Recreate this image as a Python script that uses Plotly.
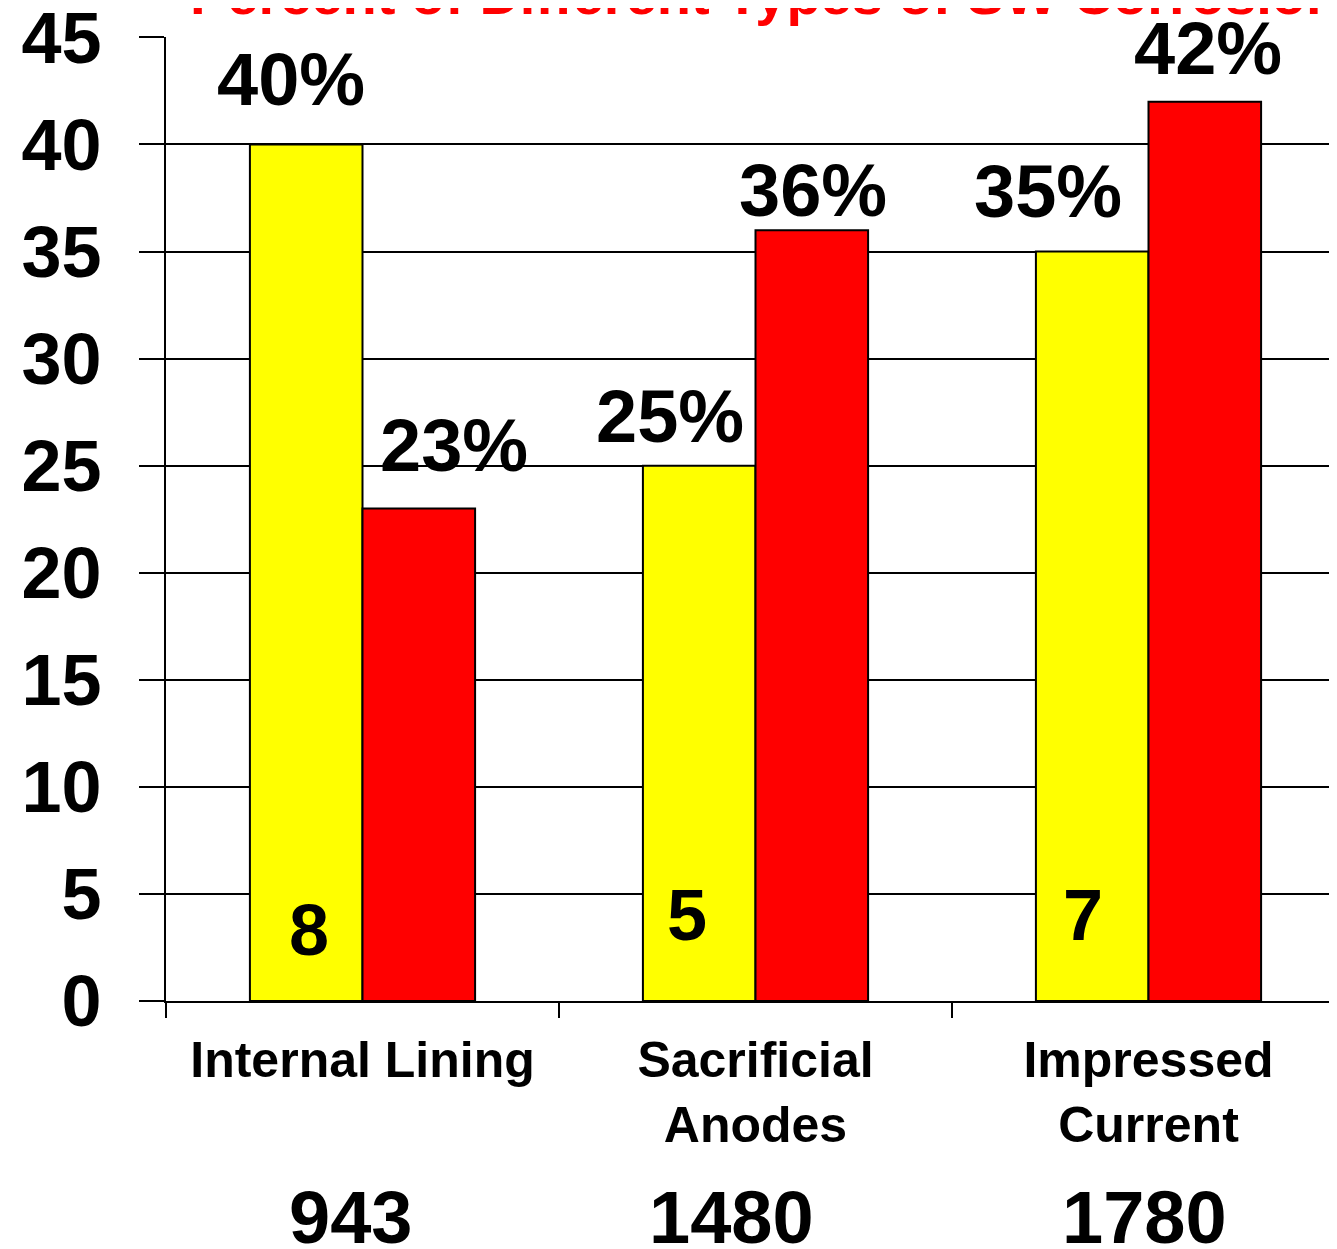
import plotly.graph_objects as go

# data
categories = ["Internal Lining", "Sacrificial<br>Anodes", "Impressed<br>Current"]
yellow_values = [40, 25, 35]
red_values = [23, 36, 42]
yellow_labels = ["40%", "25%", "35%"]
red_labels = ["23%", "36%", "42%"]
yellow_counts = ["8", "5", "7"]
totals = ["943", "1480", "1780"]
title_text = "Percent of Different Types of SW Corrosion Control"

# label nudges in pixels (x offset from category centre, y gap above bar)
YELLOW_DX = [-72, -86, -101]
RED_DX = [91, 57, 59]
YELLOW_DY = [37, 22, 33]
RED_DY = [36, 12, 26]
COUNT_DX = [-54, -69, -66]
COUNT_DY = [71, 86, 86]
TOTAL_DX = [-12, -24, -4]

BOLD = "Liberation Sans, Arial, sans-serif"
DESCENT = 16

x_idx = list(range(len(categories)))

fig = go.Figure()
fig.add_bar(
    x=categories, y=yellow_values, name="yellow",
    marker={"color": "#ffff00", "line": {"color": "black", "width": 2}},
)
fig.add_bar(
    x=categories, y=red_values, name="red",
    marker={"color": "#ff0000", "line": {"color": "black", "width": 2}},
)

label_font = {"size": 74, "family": BOLD, "color": "black", "weight": "bold"}
annotations = []
for i in x_idx:
    annotations.append(dict(
        x=i, y=yellow_values[i], xref="x", yref="y", text=yellow_labels[i],
        showarrow=False, yanchor="bottom", xshift=YELLOW_DX[i], yshift=YELLOW_DY[i] - DESCENT,
        font=label_font,
    ))
    annotations.append(dict(
        x=i, y=red_values[i], xref="x", yref="y", text=red_labels[i],
        showarrow=False, yanchor="bottom", xshift=RED_DX[i], yshift=RED_DY[i] - DESCENT,
        font=label_font,
    ))
    annotations.append(dict(
        x=i, y=0, xref="x", yref="y", text=yellow_counts[i],
        showarrow=False, yanchor="middle", xshift=COUNT_DX[i], yshift=COUNT_DY[i],
        font={**label_font, "size": 72},
    ))
    annotations.append(dict(
        x=i, y=-0.225, xref="x", yref="paper", text=totals[i],
        showarrow=False, yanchor="middle", xshift=TOTAL_DX[i], yshift=0,
        font=label_font,
    ))

annotations.append(dict(
    x=0, y=1, xref="paper", yref="paper", text=title_text,
    showarrow=False, xanchor="left", yanchor="bottom", xshift=22, yshift=9,
    font={"size": 56, "family": BOLD, "color": "#ff0000", "weight": "bold"},
))

fig.update_layout(
    width=1337, height=1249,
    margin={"l": 158, "r": 0, "t": 29, "b": 256, "autoexpand": False},
    paper_bgcolor="white", plot_bgcolor="white",
    showlegend=False,
    barmode="group", bargap=0.427, bargroupgap=0,
    annotations=annotations,
)
fig.update_xaxes(
    type="category", range=[-0.5, 2.5], automargin=False,
    tickson="boundaries", ticks="outside", ticklen=15, tickwidth=2, tickcolor="black",
    showline=True, linecolor="black", linewidth=2, showgrid=False,
    tickfont={"size": 50, "family": BOLD, "color": "black", "weight": "bold"},
    ticklabelstandoff=14,
)
fig.update_yaxes(
    range=[0, 45.02], tickvals=list(range(0, 46, 5)), automargin=False,
    ticks="outside", ticklen=25, tickwidth=2, tickcolor="black",
    showline=True, linecolor="black", linewidth=2,
    showgrid=True, gridcolor="black", gridwidth=2,
    tickfont={"size": 72, "family": BOLD, "color": "black", "weight": "bold"},
    ticklabelstandoff=23, ticklabeloverflow="allow", zeroline=False,
)

fig.write_html("out.html")
